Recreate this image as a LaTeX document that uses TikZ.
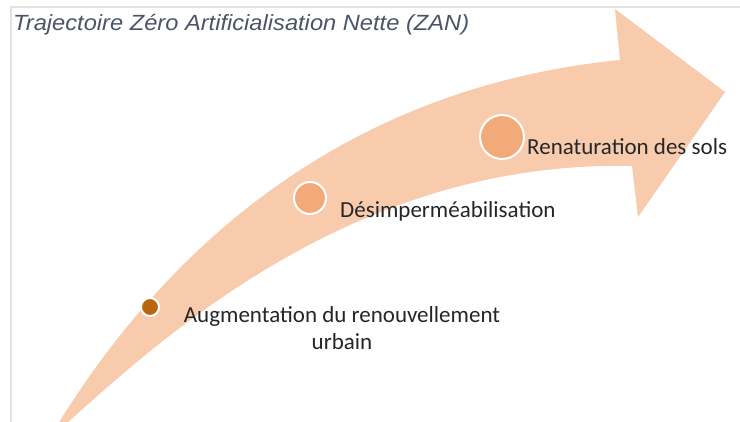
\documentclass[tikz,border=0pt]{standalone}
\usepackage{fontspec}
\usepackage{graphicx}
\setmainfont{Carlito}
\newfontfamily\titlefont{Liberation Sans}
\definecolor{arrowfill}{HTML}{F8CBAD}
\definecolor{stepfill}{HTML}{F2AA78}
\definecolor{dotfill}{HTML}{B8650F}
\definecolor{labeltext}{HTML}{262626}
\definecolor{titletext}{HTML}{4A5568}
\definecolor{framegray}{HTML}{E2E2E2}
\tikzset{
  stepdot/.style={circle, draw=white, line width=2pt, fill=stepfill, inner sep=0pt},
  steplabel/.style={text=labeltext, font=\fontsize{23}{27}\selectfont, inner sep=0pt},
}
\begin{document}
\begin{tikzpicture}[x=1pt, y=-1pt]
  \useasboundingbox (0,0) rectangle (740,422);
  \fill[white] (0,0) rectangle (740,422);
  % thin frame along the top and left
  \draw[framegray, line width=1.5pt] (11,422) -- (11,7) -- (740,7);
  % title
  \node[anchor=base west, inner sep=0pt, text=titletext] (title) at (13,31)
    {\resizebox{456pt}{\height}{\titlefont\itshape\fontsize{22}{26}\selectfont Trajectoire Zéro Artificialisation Nette (ZAN)}};
  % curved arrow: shaft edges are single cubic curves, head is a polygon
  \fill[arrowfill] (58,424)
    .. controls (150,275) and (320,90) .. (620,60)
    -- (615,9) -- (725,92) -- (638,217) -- (632,166)
    .. controls (360,160) and (170,330) .. (66,424)
    -- cycle;
  % milestones
  \node[circle, draw=white, line width=2pt, fill=dotfill, minimum size=18pt, inner sep=0pt] (d1) at (150,307) {};
  \node[stepdot, minimum size=32pt] (d2) at (310,198) {};
  \node[stepdot, minimum size=44pt] (d3) at (502,137) {};
  % labels
  \node[steplabel, anchor=base, align=center] (l1) at (342,350)
    {Augmentation du renouvellement\\urbain};
  \node[steplabel, anchor=base west] (l2) at (340,218) {Désimperméabilisation};
  \node[steplabel, anchor=base west] (l3) at (527,155) {Renaturation des sols};
\end{tikzpicture}
\end{document}
